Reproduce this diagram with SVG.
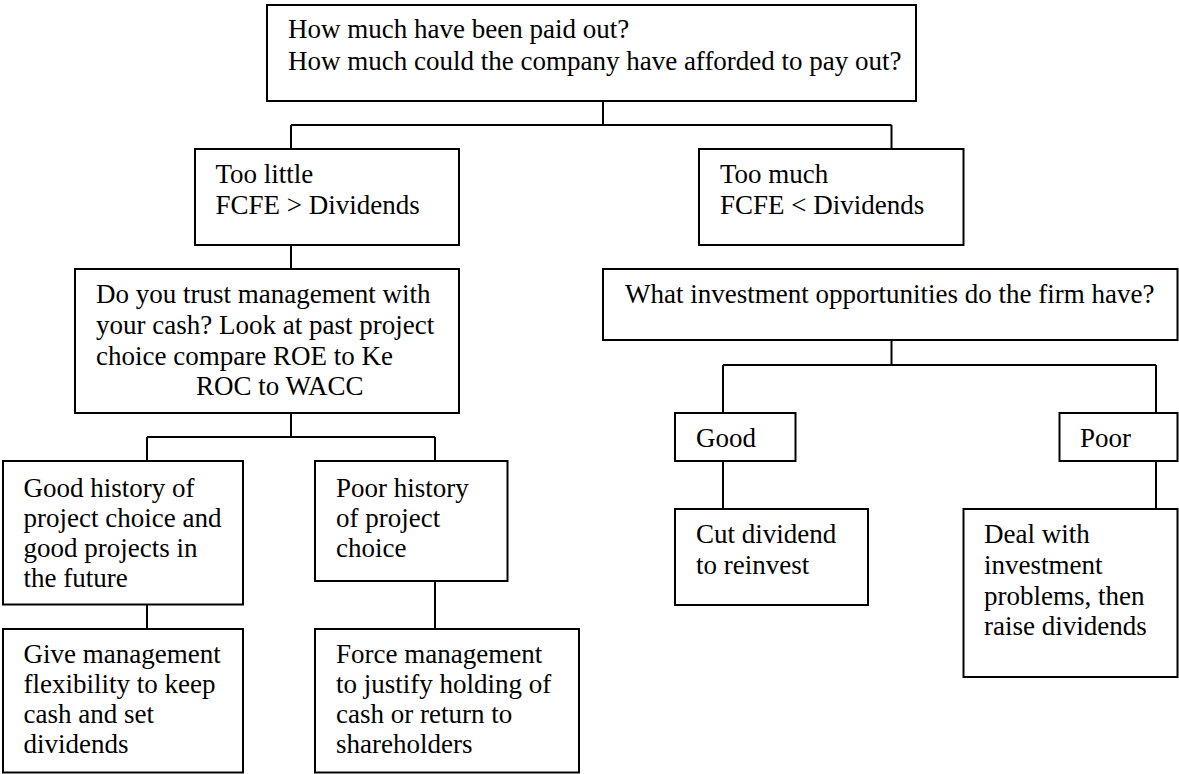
<svg xmlns="http://www.w3.org/2000/svg" width="1179" height="774" viewBox="0 0 1179 774">
<style>
rect.box{fill:#fff;stroke:#000;stroke-width:2}
.conn line{stroke:#000;stroke-width:2;fill:none}
text{font-family:"Liberation Serif","Times New Roman","DejaVu Serif",serif;font-size:27px;fill:#000}
</style>
<rect x="0" y="0" width="1179" height="774" fill="#fff"/>
<g id="connectors" class="conn">
<line x1="603" y1="101" x2="603" y2="125"/>
<line x1="291" y1="125" x2="891.5" y2="125"/>
<line x1="291" y1="125" x2="291" y2="149"/>
<line x1="891.5" y1="125" x2="891.5" y2="149"/>
<line x1="291" y1="245" x2="291" y2="269"/>
<line x1="291" y1="413" x2="291" y2="437"/>
<line x1="147" y1="437" x2="435" y2="437"/>
<line x1="147" y1="437" x2="147" y2="461"/>
<line x1="435" y1="437" x2="435" y2="461"/>
<line x1="147" y1="604.5" x2="147" y2="629"/>
<line x1="435" y1="581" x2="435" y2="629"/>
<line x1="891.5" y1="340" x2="891.5" y2="365"/>
<line x1="723" y1="365" x2="1156" y2="365"/>
<line x1="723" y1="365" x2="723" y2="413"/>
<line x1="1156" y1="365" x2="1156" y2="413"/>
<line x1="723" y1="461" x2="723" y2="509"/>
<line x1="1156" y1="461" x2="1156" y2="509"/>
</g>
<g id="top">
<rect class="box" x="267" y="5" width="649" height="96"/>
<text x="288" y="38">How much have been paid out?</text>
<text x="288" y="70">How much could the company have afforded to pay out?</text>
</g>
<g id="too-little">
<rect class="box" x="195" y="149" width="264" height="96"/>
<text x="215.5" y="183">Too little</text>
<text x="215.5" y="213.5">FCFE &gt; Dividends</text>
</g>
<g id="too-much">
<rect class="box" x="699" y="149" width="264.5" height="96"/>
<text x="720" y="183">Too much</text>
<text x="720" y="213.5">FCFE &lt; Dividends</text>
</g>
<g id="trust">
<rect class="box" x="75" y="269" width="384" height="144"/>
<text x="96" y="303">Do you trust management with</text>
<text x="96" y="334">your cash? Look at past project</text>
<text x="96" y="365">choice compare ROE to Ke</text>
<text x="196" y="395">ROC to WACC</text>
</g>
<g id="good-history">
<rect class="box" x="3" y="461" width="240" height="143.5"/>
<text x="23.5" y="497">Good history of</text>
<text x="23.5" y="527">project choice and</text>
<text x="23.5" y="557">good projects in</text>
<text x="23.5" y="587">the future</text>
</g>
<g id="poor-history">
<rect class="box" x="315" y="461" width="192.5" height="120"/>
<text x="336" y="497">Poor history</text>
<text x="336" y="527">of project</text>
<text x="336" y="557">choice</text>
</g>
<g id="give-management">
<rect class="box" x="3" y="629" width="240" height="143.5"/>
<text x="23.5" y="663">Give management</text>
<text x="23.5" y="693">flexibility to keep</text>
<text x="23.5" y="723">cash and set</text>
<text x="23.5" y="753">dividends</text>
</g>
<g id="force-management">
<rect class="box" x="315" y="629" width="264" height="143.5"/>
<text x="336" y="663">Force management</text>
<text x="336" y="693">to justify holding of</text>
<text x="336" y="723">cash or return to</text>
<text x="336" y="753">shareholders</text>
</g>
<g id="investment-opportunities">
<rect class="box" x="603" y="269" width="574.5" height="71"/>
<text x="625" y="303">What investment opportunities do the firm have?</text>
</g>
<g id="good">
<rect class="box" x="675" y="413" width="120.5" height="48"/>
<text x="696" y="447">Good</text>
</g>
<g id="poor">
<rect class="box" x="1059.5" y="413" width="118" height="48"/>
<text x="1080" y="447">Poor</text>
</g>
<g id="cut-dividend">
<rect class="box" x="675" y="509" width="193" height="96"/>
<text x="696" y="543">Cut dividend</text>
<text x="696" y="574">to reinvest</text>
</g>
<g id="deal-with">
<rect class="box" x="963.5" y="509" width="214" height="168"/>
<text x="984" y="543">Deal with</text>
<text x="984" y="574">investment</text>
<text x="984" y="605">problems, then</text>
<text x="984" y="635">raise dividends</text>
</g>
</svg>
